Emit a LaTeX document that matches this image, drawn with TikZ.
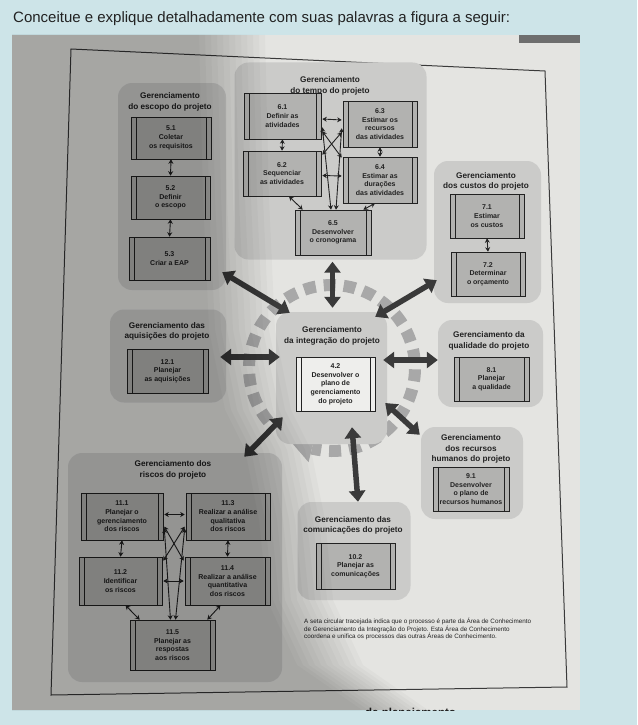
\documentclass[tikz,border=0pt]{standalone}
\usepackage{fontspec}
\setmainfont{Liberation Sans}
\usetikzlibrary{arrows.meta,calc}
\definecolor{bgblue}{HTML}{CDE4E8}
\definecolor{pagebg}{HTML}{E4E4E1}
\definecolor{grpfill}{HTML}{CBCBC9}
\definecolor{procfill}{HTML}{B2B2B0}
\definecolor{whitebox}{HTML}{EEEEEC}
\definecolor{sqgray}{HTML}{A8A8A8}
\definecolor{bigarr}{HTML}{3A3A3A}
\definecolor{txt}{HTML}{222222}
\definecolor{framecol}{HTML}{3A3A3A}
\definecolor{patch}{HTML}{6E6E6E}
\newcommand{\procfont}{\bfseries\fontsize{7}{8.7}\selectfont}
\newcommand{\areafont}{\bfseries\fontsize{8.2}{10.6}\selectfont}
\newcommand{\notefont}{\fontsize{6.3}{7.5}\selectfont}
\begin{document}
\begin{tikzpicture}[x=1pt,y=-1pt,
  grp/.style={fill=grpfill, rounded corners=14pt, inner sep=0pt},
  proc/.style={draw=txt, line width=0.6pt, fill=procfill, inner sep=0pt, align=center,
    font=\procfont, text=txt,
    path picture={
      \draw[txt, line width=0.5pt] ([xshift=5pt]path picture bounding box.north west) -- ([xshift=5pt]path picture bounding box.south west);
      \draw[txt, line width=0.5pt] ([xshift=-5pt]path picture bounding box.north east) -- ([xshift=-5pt]path picture bounding box.south east);}},
  ttl/.style={font=\areafont, align=center, text=txt, inner sep=0pt},
  sarr/.style={draw=txt, line width=0.9pt, arrows={Stealth[length=4.5pt,width=5pt]-Stealth[length=4.5pt,width=5pt]}},
  barr/.style={draw=bigarr, line width=5.5pt, arrows={Triangle[length=11pt,width=16pt]-Triangle[length=11pt,width=16pt]}}]
\useasboundingbox (0,0) rectangle (637,725);
\fill[bgblue] (0,0) rectangle (637,725);
\node[anchor=base west, font=\fontsize{15}{18}\selectfont, text=txt, inner sep=0pt] (qtitle) at (13,23) {Conceitue e explique detalhadamente com suas palavras a figura a seguir:};
\begin{scope}
\clip (12,35) rectangle (580,710);
\fill[pagebg] (12,35) rectangle (580,710);
\fill[patch] (519,35) rectangle (580,43);
\draw[framecol, line width=1pt] (71,49) -- (545,71) -- (567,687) -- (51,695) -- cycle;
% groups
\node[grp, minimum width=108pt, minimum height=207pt] (g5) at (172,186.5) {};
\node[grp, minimum width=192pt, minimum height=197pt] (g6) at (330.5,161) {};
\node[grp, minimum width=107pt, minimum height=142pt] (g7) at (487.5,232) {};
\node[grp, minimum width=116pt, minimum height=93pt] (g12) at (168,356) {};
\node[grp, minimum width=105pt, minimum height=87pt] (g8) at (490.5,363.5) {};
\node[grp, minimum width=102pt, minimum height=92pt] (g9) at (472,473) {};
\node[grp, minimum width=113pt, minimum height=98pt] (g10) at (354,551) {};
\node[grp, minimum width=214pt, minimum height=229pt] (g11) at (175,567.5) {};
% dashed circle
\coordinate (cc) at (332,368);
\draw[sqgray, line width=12pt, dash pattern=on 12pt off 8pt] ($(cc)+(140:83)$) arc[start angle=140, end angle=464, radius=83];
\fill[sqgray] ($(cc)+(122:83)$) -- ($(cc)+(104:69)$) -- ($(cc)+(104:97)$) -- cycle;
\node[grp, minimum width=111pt, minimum height=132pt] (g4) at (331.5,378) {};
% titles
\node[ttl] (t5) at (170,102) {Gerenciamento\\do escopo do projeto};
\node[ttl] (t6) at (330,86) {Gerenciamento\\do tempo do projeto};
\node[ttl] (t7) at (486,181.5) {Gerenciamento\\dos custos do projeto};
\node[ttl] (t12) at (167,331.5) {Gerenciamento das\\aquisições do projeto};
\node[ttl] (t4) at (332,336) {Gerenciamento\\da integração do projeto};
\node[ttl] (t8) at (489,341) {Gerenciamento da\\qualidade do projeto};
\node[ttl] (t9) at (471,449) {Gerenciamento\\dos recursos\\humanos do projeto};
\node[ttl] (t10) at (353,525.5) {Gerenciamento das\\comunicações do projeto};
\node[ttl] (t11) at (173,470) {Gerenciamento dos\\riscos do projeto};
% process boxes
\node[proc, minimum width=80pt, minimum height=42pt] (b51) at (171,138) {5.1\\Coletar\\os requisitos};
\node[proc, minimum width=79pt, minimum height=43pt] (b52) at (170.5,197.5) {5.2\\Definir\\o escopo};
\node[proc, minimum width=81pt, minimum height=43pt] (b53) at (169.5,258.5) {5.3\\Criar a EAP};
\node[proc, minimum width=77pt, minimum height=46pt] (b61) at (282.5,116) {6.1\\Definir as\\atividades};
\node[proc, minimum width=74pt, minimum height=46pt] (b63) at (380,124) {6.3\\Estimar os\\recursos\\das atividades};
\node[proc, minimum width=78pt, minimum height=45pt] (b62) at (282,173.5) {6.2\\Sequenciar\\as atividades};
\node[proc, minimum width=74pt, minimum height=46pt] (b64) at (380,180) {6.4\\Estimar as\\durações\\das atividades};
\node[proc, minimum width=76pt, minimum height=45pt] (b65) at (333,232.5) {6.5\\Desenvolver\\o cronograma};
\node[proc, minimum width=74pt, minimum height=44pt] (b71) at (487,216) {7.1\\Estimar\\os custos};
\node[proc, minimum width=74pt, minimum height=44pt] (b72) at (488,274) {7.2\\Determinar\\o orçamento};
\node[proc, minimum width=81pt, minimum height=44pt] (b121) at (167.5,371) {12.1\\Planejar\\as aquisições};
\node[proc, fill=whitebox, minimum width=79pt, minimum height=54pt] (b42) at (335.5,384) {4.2\\Desenvolver o\\plano de\\gerenciamento\\do projeto};
\node[proc, minimum width=75pt, minimum height=44pt] (b81) at (491.5,379) {8.1\\Planejar\\a qualidade};
\node[proc, minimum width=76pt, minimum height=44pt] (b91) at (471,489) {9.1\\Desenvolver\\o plano de\\recursos humanos};
\node[proc, minimum width=79pt, minimum height=46pt] (b102) at (355.5,566) {10.2\\Planejar as\\comunicações};
\node[proc, minimum width=82pt, minimum height=47pt] (b111) at (122,516.5) {11.1\\Planejar o\\gerenciamento\\dos riscos};
\node[proc, minimum width=84pt, minimum height=47pt] (b113) at (228,516.5) {11.3\\Realizar a análise\\qualitativa\\dos riscos};
\node[proc, minimum width=83pt, minimum height=48pt] (b112) at (120.5,581) {11.2\\Identificar\\os riscos};
\node[proc, minimum width=85pt, minimum height=48pt] (b114) at (227.5,581) {11.4\\Realizar a análise\\quantitativa\\dos riscos};
\node[proc, minimum width=85pt, minimum height=50pt] (b115) at (172.5,645) {11.5\\Planejar as\\respostas\\aos riscos};
% small arrows: escopo, custos
\draw[sarr] (b51.south) -- (b52.north);
\draw[sarr] (b52.south) -- (b53.north);
\draw[sarr] (b71.south) -- (b72.north);
% tempo
\draw[sarr] ($(b61.east)+(1,3)$) -- ($(b63.west)+(-1,-4)$);
\draw[sarr] (b61.south) -- (b62.north);
\draw[sarr] (b63.south) -- (b64.north);
\draw[sarr] ($(b62.east)+(1,2)$) -- ($(b64.west)+(-1,-4)$);
\draw[sarr] ($(b61.south east)+(1,-8)$) -- ($(b64.north west)+(-1,1)$);
\draw[sarr] ($(b63.south west)+(-1,-15)$) -- ($(b62.north east)+(1,4)$);
\draw[sarr] ($(b61.south east)+(1,-12)$) -- ($(b65.north)+(-2,0)$);
\draw[sarr] ($(b63.south west)+(-1,-19)$) -- ($(b65.north)+(3,0)$);
\draw[sarr] ($(b62.south)+(7,0)$) -- ($(b65.north west)+(8,0)$);
\draw[sarr] ($(b64.south)+(-5,0)$) -- ($(b65.north east)+(-8,0)$);
% riscos
\draw[sarr] ($(b111.east)+(1,-2)$) -- ($(b113.west)+(-1,-2)$);
\draw[sarr] (b111.south) -- (b112.north);
\draw[sarr] (b113.south) -- (b114.north);
\draw[sarr] ($(b112.east)+(1,0)$) -- ($(b114.west)+(-1,0)$);
\draw[sarr] ($(b111.east)+(1,10)$) -- ($(b114.north west)+(-1,4)$);
\draw[sarr] ($(b113.west)+(-1,10)$) -- ($(b112.north east)+(1,4)$);
\draw[sarr] ($(b111.east)+(1,12)$) -- ($(b115.north)+(-2,0)$);
\draw[sarr] ($(b113.west)+(-1,12)$) -- ($(b115.north)+(3,0)$);
\draw[sarr] ($(b112.south)+(5,0)$) -- ($(b115.north west)+(10,0)$);
\draw[sarr] ($(b114.south)+(-7,0)$) -- ($(b115.north east)+(-8,0)$);
% big arrows
\draw[barr] ($(g5.south east)+(-4,-18)$) -- ($(g4.north west)+(14,1)$);
\draw[barr] ($(g6.south)+(2,2)$) -- ($(g4.north)+(1,-4)$);
\draw[barr] ($(g7.south west)+(3,-23)$) -- ($(g4.north east)+(-12,5)$);
\draw[barr] ($(g12.east)+(-6,1)$) -- ($(g4.west)+(4,-21)$);
\draw[barr] ($(g4.east)+(-4,-18)$) -- ($(g8.west)+(0,-3.5)$);
\draw[barr] ($(g4.east)+(-2,25)$) -- ($(g9.north west)+(-1,8)$);
\draw[barr] ($(g4.south)+(20.5,-17)$) -- ($(g10.north)+(4,0)$);
\draw[barr] ($(g4.south west)+(7,-27)$) -- ($(g11.north east)+(-38,4)$);
% note
\node[anchor=north west, align=left, font=\notefont, text=txt, inner sep=0pt] (note) at (304,618) {A seta circular tracejada indica que o processo é parte da Área de Conhecimento\\de Gerenciamento da Integração do Projeto. Esta Área de Conhecimento\\coordena e unifica os processos das outras Áreas de Conhecimento.};
\node[anchor=base west, font=\bfseries\fontsize{11.5}{13}\selectfont, text=txt, inner sep=0pt] (btxt) at (365,716) {de planejamento};
% photo shadow (soft edge)
\foreach \s in {-33,-27,...,33} {
  \fill[black, opacity=0.025] (12,35) -- ({232-\s},35) -- ({236-\s},200) -- ({242-\s},330) -- ({258-\s},410) -- ({278-\s},450) -- ({292-\s},520) -- ({300-\s},600) -- ({330-\s},665) -- ({395-\s},710) -- (12,710) -- cycle;
}
\end{scope}
\end{tikzpicture}
\end{document}
